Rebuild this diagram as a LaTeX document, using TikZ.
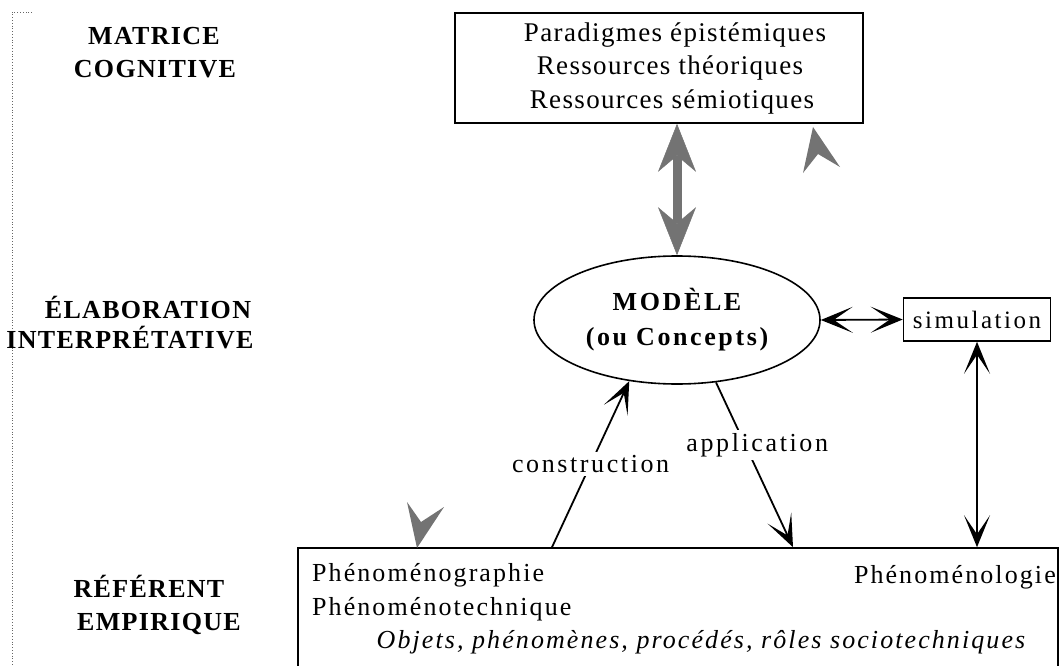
\documentclass[tikz,border=0pt]{standalone}
\usepackage{fontspec}
\setmainfont{Liberation Serif}
\newfontfamily\widefont[LetterSpace=8]{Liberation Serif}
\newfontfamily\midfont[LetterSpace=10]{Liberation Serif}
\newfontfamily\tightfont[LetterSpace=5]{Liberation Serif}
\usetikzlibrary{arrows.meta,shapes.geometric}
\tikzset{
    level-label/.style = {font=\tightfont\fontsize{26}{30}\selectfont\bfseries, anchor=base, inner sep=0pt},
    empirique-text/.style = {font=\widefont\fontsize{26}{30}\selectfont, inner sep=0pt},
    matrice-text/.style = {font=\tightfont\fontsize{27}{31}\selectfont, anchor=base, inner sep=0pt},
    plain-box/.style = {draw, line width=1.6pt, rectangle, inner sep=0pt},
    arc-label/.style = {fill=white, font=\midfont\fontsize{26}{30}\selectfont, inner sep=3pt},
    black-arrow/.style = {line width=1.8pt, {Stealth[length=32pt,width=26pt,inset=19pt]}-{Stealth[length=32pt,width=26pt,inset=19pt]}},
    one-arrow/.style = {line width=1.8pt, -{Stealth[length=32pt,width=26pt,inset=19pt]}},
    gray-arrow/.style = {draw=black!55, line width=9pt, {Stealth[length=48pt,width=38pt,inset=16pt,line width=0.5pt]}-{Stealth[length=48pt,width=38pt,inset=16pt,line width=0.5pt]}},
}

\begin{document}
\begin{tikzpicture}[x=1pt, y=-1pt]
\useasboundingbox (0,0) rectangle (1062,666);
\draw[black!60, dotted, line width=0.8pt] (32,12) -- (12,12) -- (12,666);

\node[level-label] (lbl-matrice) at (154,45) {MATRICE};
\node[level-label] (lbl-cognitive) at (155,78) {COGNITIVE};
\node[level-label] (lbl-elaboration) at (148,318) {ÉLABORATION};
\node[level-label] (lbl-interpretative) at (130,348) {INTERPRÉTATIVE};
\node[level-label] (lbl-referent) at (149,597) {RÉFÉRENT};
\node[level-label] (lbl-empirique) at (159,630) {EMPIRIQUE};

\node[plain-box, minimum width=408pt, minimum height=110pt] (matrice) at (659,68) {};
\node[matrice-text] (paradigmes) at (675,42) {Paradigmes épistémiques};
\node[matrice-text] (theoriques) at (670,75) {Ressources théoriques};
\node[matrice-text] (semiotiques) at (672,109) {Ressources sémiotiques};

\node[draw, ellipse, line width=1.6pt, minimum width=286pt, minimum height=128pt, inner sep=0pt, align=center,
      font=\midfont\fontsize{26}{35}\selectfont\bfseries] (modele) at (677,320) {MODÈLE\\(ou Concepts)};
\node[plain-box, minimum width=147pt, minimum height=43pt, font=\midfont\fontsize{25}{28}\selectfont] (simulation) at (977,319.5) {simulation};

\node[plain-box, minimum width=760pt, minimum height=150pt] (empirique) at (678,623) {};
\node[empirique-text, anchor=base west] (graphie) at (312,581) {Phénoménographie};
\node[empirique-text, anchor=base west] (technique) at (312,615) {Phénoménotechnique};
\node[empirique-text, anchor=base east] (logie) at (1056,583) {Phénoménologie};
\node[empirique-text, anchor=base, font=\widefont\fontsize{26}{30}\selectfont\itshape] (objets) at (701,648) {Objets, phénomènes, procédés, rôles sociotechniques};

\draw[gray-arrow] (modele.north) -- (modele.north |- matrice.south);
\draw[black-arrow] (modele.east) -- (simulation.west);
\draw[black-arrow] (simulation.south) -- (simulation.south |- empirique.north);
\draw[one-arrow] (552,0 |- empirique.north) -- node[arc-label] {construction} (modele.232);
\draw[one-arrow] (modele.302) -- node[arc-label, pos=0.38, xshift=12pt] {application} (793,0 |- empirique.north);

\fill[black!55] (813,127) -- (840,167) -- (818,154) -- (803,173) -- cycle;
\fill[black!55] (417,548) -- (407,502) -- (421,522) -- (444,507) -- cycle;
\end{tikzpicture}
\end{document}
